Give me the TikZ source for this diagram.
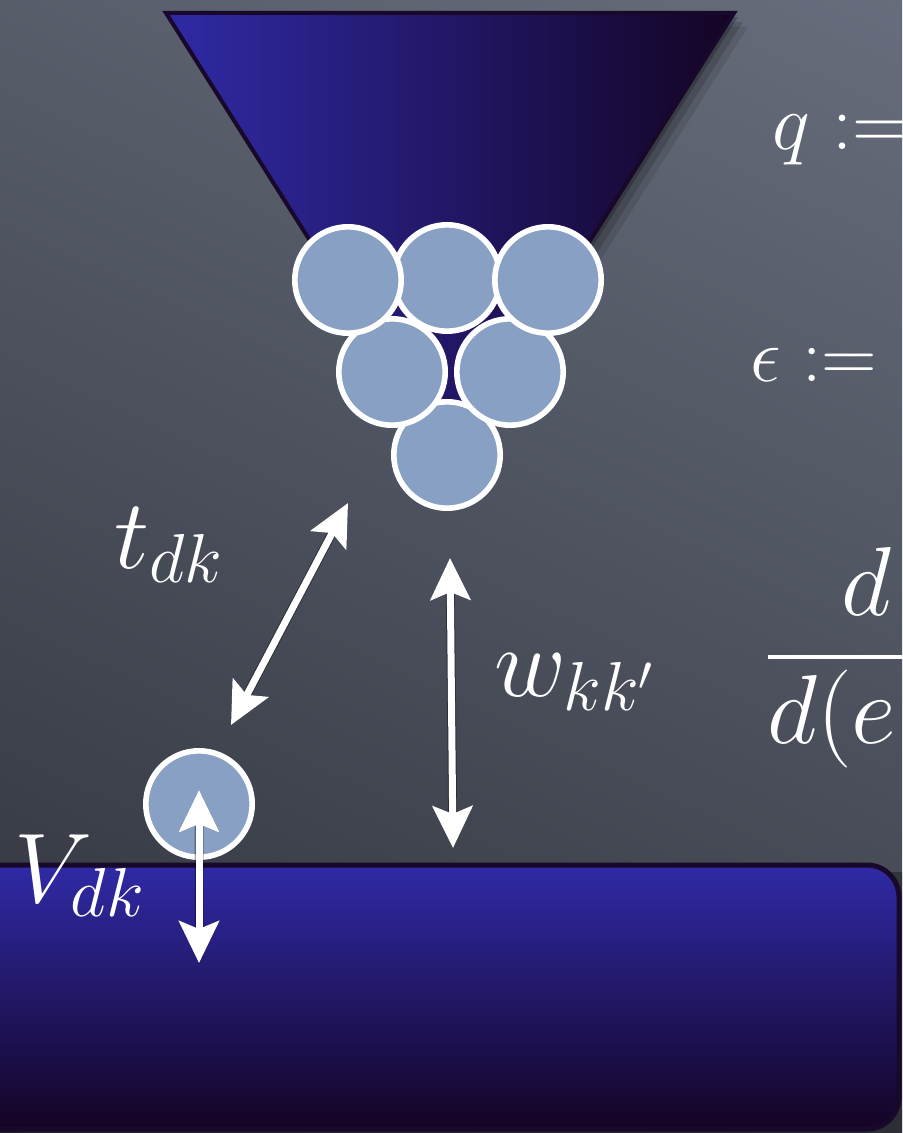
\RequirePackage{fix-cm}
\documentclass[tikz,border=0pt]{standalone}
\usetikzlibrary{arrows.meta}

\definecolor{boardlight}{RGB}{104,110,125}
\definecolor{boarddark}{RGB}{46,49,58}
\definecolor{inkblue}{RGB}{47,42,166}
\definecolor{inkdeep}{RGB}{20,4,36}
\definecolor{rimdark}{RGB}{24,8,42}
\definecolor{ballfill}{RGB}{136,160,195}

\tikzset{
  ball/.style={circle, draw=white, line width=2.8pt, fill=ballfill,
    minimum size=53.2pt, inner sep=0pt, outer sep=0pt},
  tipshape/.style={{Stealth[length=21pt,width=20pt,inset=4pt]}-{Stealth[length=21pt,width=20pt,inset=4pt]}},
  dblarrow/.style={tipshape, draw=white, line width=3.5pt},
  arrowshade/.style={tipshape, draw=black, line width=4.5pt},
  chalk/.style={text=white, inner sep=0pt, anchor=base west},
  biglabel/.style={chalk, font=\fontsize{49.5}{56}\selectfont},
}

\begin{document}
\begin{tikzpicture}[x=0.5pt, y=-0.5pt]
  \useasboundingbox (0,0) rectangle (902,1133);
  \clip (0,0) rectangle (902,1133);

  % slate board
  \shade[shading=axis, top color=boardlight, bottom color=boarddark, shading angle=-25]
    (-200,-200) rectangle (1100,1333);

  % substrate slab with its shadow
  \fill[black, opacity=0.3] (-40,872) rectangle (910,1140);
  \path[draw=rimdark, line width=2.5pt, top color=inkblue, bottom color=inkdeep,
        rounded corners=16pt] (-40,865) rectangle (899,1129);

  % funnel with its soft shadow
  \foreach \s/\o in {14/0.10, 9/0.15, 4/0.22}
    \fill[black, opacity=\o] (166+\s,13+\s) -- (734+\s,13+\s) -- (450+\s,462+\s) -- cycle;
  \path[draw=rimdark, line width=2pt, left color=inkblue, right color=inkdeep,
        line join=miter] (166,13) -- (734,13) -- (450,462) -- cycle;

  % cluster of balls in the funnel mouth
  \node[ball] (b6) at (447,455) {};
  \node[ball] (b4) at (392,372) {};
  \node[ball] (b5) at (510,372) {};
  \node[ball] (b2) at (447,278) {};
  \node[ball] (b1) at (348,280) {};
  \node[ball] (b3) at (548,280) {};

  % single adsorbed ball near the surface
  \node[ball] (dot) at (199,804) {};

  % arrow end points
  \coordinate (tA) at (231,725);
  \coordinate (tB) at (348,503);
  \coordinate (wA) at (450,558);
  \coordinate (wB) at (453,848);
  \coordinate (vA) at (199,790);
  \coordinate (vB) at (199,963);

  % arrow shadows
  \begin{scope}[transparency group, opacity=0.35, shift={(6,6)}]
    \draw[arrowshade] (tA) -- (tB);
    \draw[arrowshade] (wA) -- (wB);
    \draw[arrowshade] (vA) -- (vB);
  \end{scope}

  % double-headed arrows
  \draw[dblarrow] (tA) -- (tB);
  \draw[dblarrow] (wA) -- (wB);
  \draw[dblarrow] (vA) -- (vB);

  % labels
  \node[biglabel] (tl) at (114,568) {$t_{dk}$};
  \node[biglabel] (wl) at (494,696) {$w_{kk'}$};
  \node[biglabel] (vl) at (14,902) {$V_{dk}$};

  % definitions running off the right edge
  \node[chalk, font=\fontsize{40}{46}\selectfont] (qdef) at (772,150) {$q :=$};
  \node[chalk, font=\fontsize{38.5}{44}\selectfont] (edef) at (750,382) {$\epsilon :=$};
  \node[chalk, font=\fontsize{49}{55}\selectfont] (num) at (841,615) {$d$};
  \node[chalk, font=\fontsize{49}{55}\selectfont] (den) at (767,743) {$d(e$};
  \draw[white, line width=1.6pt] (768,657) -- (910,657);
\end{tikzpicture}
\end{document}
